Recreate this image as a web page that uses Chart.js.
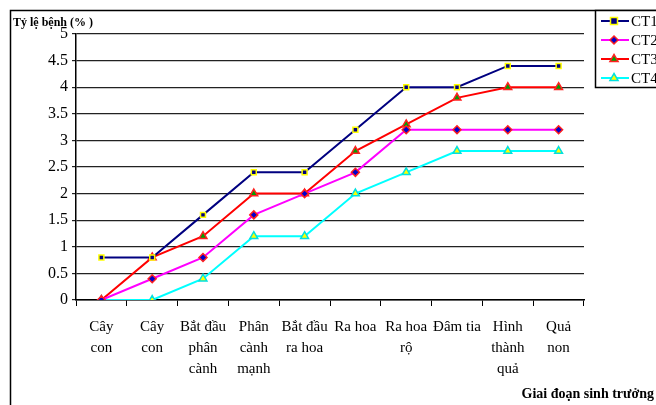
<!DOCTYPE html>
<html>
<head>
<meta charset="utf-8">
<script src="https://cdn.jsdelivr.net/npm/chart.js@4/dist/chart.umd.min.js"></script>
<style>
html,body{margin:0;padding:0;background:#fff;}
#wrap{width:656px;height:405px;position:relative;}
</style>
</head>
<body>
<div id="wrap"><canvas id="c" width="656" height="405"></canvas></div>
<script>
const categories = [
  ["Cây","con"],
  ["Cây","con"],
  ["Bắt đầu","phân","cành"],
  ["Phân","cành","mạnh"],
  ["Bắt đầu","ra hoa"],
  ["Ra hoa"],
  ["Ra hoa","rộ"],
  ["Đâm tia"],
  ["Hình","thành","quả"],
  ["Quả","non"]
];
const seriesNames = ["CT1","CT2","CT3","CT4"];
const ct1 = [0.8, 0.8, 1.6, 2.4, 2.4, 3.2, 4.0, 4.0, 4.4, 4.4];
const ct2 = [0, 0.4, 0.8, 1.6, 2.0, 2.4, 3.2, 3.2, 3.2, 3.2];
const ct3 = [0, 0.8, 1.2, 2.0, 2.0, 2.8, 3.3, 3.8, 4.0, 4.0];
const ct4 = [0, 0, 0.4, 1.2, 1.2, 2.0, 2.4, 2.8, 2.8, 2.8];
const yTicks = [0, 0.5, 1, 1.5, 2, 2.5, 3, 3.5, 4, 4.5, 5];
const yTitle = "Tỷ lệ bệnh (% )";
const xTitle = "Giai đoạn sinh trưởng";

const FONT = "'Liberation Serif','Times New Roman',serif";

const styles = [
  {line:'#000080', fill:'#000080', border:'#FFFF00', shape:'rect', r:3.5},
  {line:'#FF00FF', fill:'#0000CC', border:'#FF2020', shape:'rectRot', r:4},
  {line:'#FF0000', fill:'#00A000', border:'#FF2020', shape:'triangle', r:4.5},
  {line:'#00FFFF', fill:'#FFFF00', border:'#00E0E0', shape:'triangle', r:4.5}
];
const values = [ct1, ct2, ct3, ct4];

const datasets = values.map((v,i)=>({
  label: seriesNames[i],
  data: v,
  borderColor: styles[i].line,
  backgroundColor: styles[i].fill,
  borderWidth: 2,
  pointStyle: styles[i].shape,
  pointRadius: styles[i].r,
  pointBackgroundColor: styles[i].fill,
  pointBorderColor: styles[i].border,
  pointBorderWidth: 1.5,
  tension: 0
}));

const decor = {
  id:'decor',
  afterDraw(chart){
    const ctx = chart.ctx;
    ctx.save();
    ctx.strokeStyle = '#000';
    ctx.lineWidth = 1.5;
    ctx.beginPath();
    ctx.moveTo(10.5, 420); ctx.lineTo(10.5, 10.5); ctx.lineTo(700, 10.5);
    ctx.stroke();
    ctx.fillStyle = '#000';
    ctx.font = "bold 12px " + FONT;
    ctx.textAlign = 'left'; ctx.textBaseline = 'alphabetic';
    ctx.fillText(yTitle, 13, 26);
    ctx.font = "bold 14px " + FONT;
    ctx.textAlign = 'right';
    ctx.fillText(xTitle, 654, 398);
    ctx.fillStyle = '#fff';
    ctx.fillRect(595, 10, 80, 78);
    ctx.strokeStyle = '#000';
    ctx.lineWidth = 1.5;
    ctx.strokeRect(595.5, 10.5, 80, 77);
    const ys = [21, 40, 59, 78];
    chart.data.datasets.forEach((ds,i)=>{
      const y = ys[i];
      ctx.strokeStyle = ds.borderColor;
      ctx.lineWidth = 2;
      ctx.beginPath(); ctx.moveTo(601, y); ctx.lineTo(629, y); ctx.stroke();
      ctx.fillStyle = ds.pointBackgroundColor;
      ctx.strokeStyle = ds.pointBorderColor;
      ctx.lineWidth = ds.pointBorderWidth;
      ctx.beginPath();
      const r = ds.pointRadius;
      const cx = 614;
      if (ds.pointStyle === 'rect') { ctx.rect(cx-r, y-r, 2*r, 2*r); }
      else if (ds.pointStyle === 'rectRot') { ctx.moveTo(cx, y-r); ctx.lineTo(cx+r, y); ctx.lineTo(cx, y+r); ctx.lineTo(cx-r, y); ctx.closePath(); }
      else { ctx.moveTo(cx, y-r); ctx.lineTo(cx+r*0.9, y+r*0.55); ctx.lineTo(cx-r*0.9, y+r*0.55); ctx.closePath(); }
      ctx.fill(); ctx.stroke();
      ctx.fillStyle = '#000';
      ctx.font = "15px " + FONT;
      ctx.textAlign = 'left'; ctx.textBaseline = 'middle';
      ctx.fillText(ds.label, 631, y+1);
    });
    ctx.restore();
  }
};

new Chart(document.getElementById('c'), {
  type: 'line',
  data: { labels: categories, datasets },
  options: {
    responsive: false,
    animation: false,
    devicePixelRatio: 1,
    layout: { padding: { left: 0, right: 72, top: 34, bottom: 0 } },
    plugins: { legend: { display: false }, tooltip: { enabled: false } },
    scales: {
      x: {
        offset: true,
        grid: { offset: true, drawOnChartArea: false, drawTicks: true, tickLength: 6, color: '#000', lineWidth: 1 },
        border: { display: true, color: '#000', width: 1.5 },
        ticks: { color: '#000', font: { family: FONT, size: 15, lineHeight: 1.4 }, padding: 11, maxRotation: 0, autoSkip: false },
        afterFit(scale){ scale.height = 105; }
      },
      y: {
        min: 0, max: 5,
        afterBuildTicks(scale){ scale.ticks = yTicks.map(v=>({value:v})); },
        grid: { color: '#222', lineWidth: 1.2, tickLength: 4 },
        border: { display: true, color: '#000', width: 1.5 },
        ticks: { color: '#000', font: { family: FONT, size: 16 }, padding: 4, callback: (v)=>String(v) },
        afterFit(scale){ scale.width = 76; }
      }
    }
  },
  plugins: [decor]
});
</script>
</body>
</html>
